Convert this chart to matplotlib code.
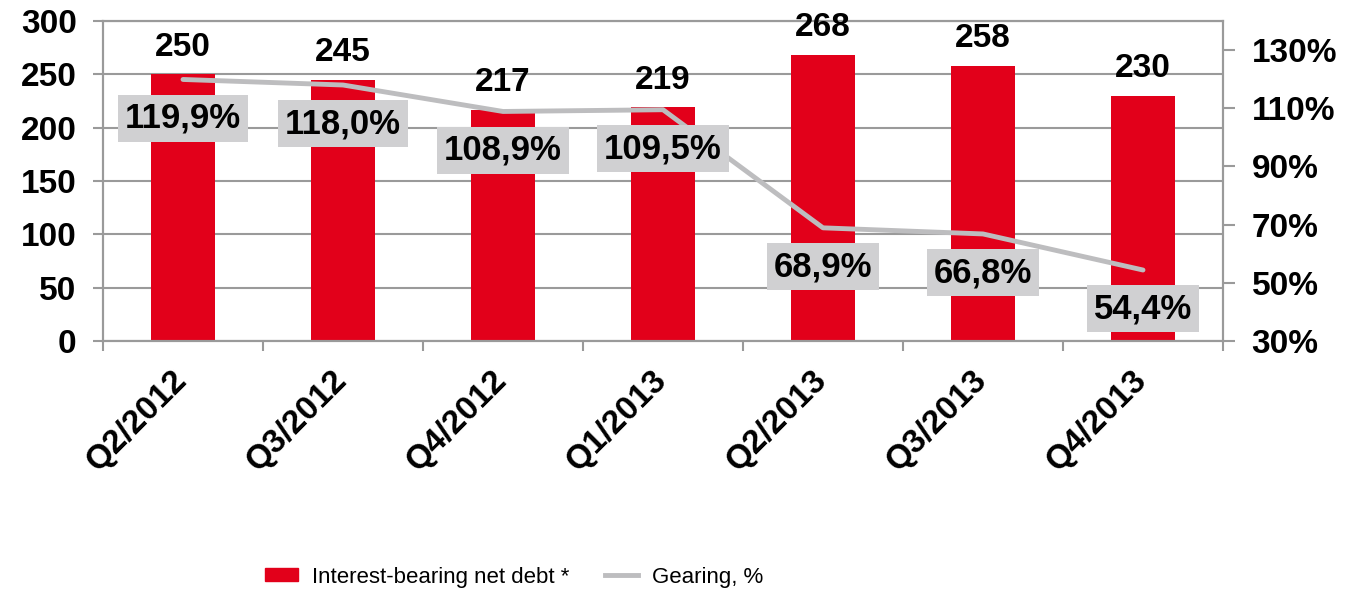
import numpy as np
import matplotlib; matplotlib.use("Agg")
import matplotlib.pyplot as plt
import matplotlib.transforms as mtrans
from matplotlib.patches import Patch
from matplotlib.lines import Line2D

# ---------------------------------------------------------- data
quarters = ["Q2/2012", "Q3/2012", "Q4/2012", "Q1/2013", "Q2/2013", "Q3/2013", "Q4/2013"]
net_debt = [250, 245, 217, 219, 268, 258, 230]
gearing = [119.9, 118.0, 108.9, 109.5, 68.9, 66.8, 54.4]
left_ticks = [0, 50, 100, 150, 200, 250, 300]
right_ticks = [30, 50, 70, 90, 110, 130]

RED, LINE, BOX, GRID = "#e2001a", "#bdbdbf", "#d0d0d2", "#9a9a9a"
plt.rcParams["font.family"] = ["Liberation Sans", "DejaVu Sans"]

fig = plt.figure(figsize=(13.49, 5.98), dpi=100)
ax = fig.add_axes([103/1349, 1-341/598, 1120/1349, 320/598])
x = np.arange(len(quarters))

# ---------------------------------------------------------- bars (left axis)
ax.bar(x, net_debt, width=0.4, color=RED, zorder=2)
ax.set_xlim(-0.5, len(quarters)-0.5); ax.set_ylim(0, 300)
ax.set_yticks(left_ticks)
ax.yaxis.grid(True, color=GRID, lw=1.5, zorder=0)
for s in ax.spines.values(): s.set_color(GRID); s.set_linewidth(1.5)
ax.tick_params(axis="y", length=7, width=1.5, color=GRID, labelsize=24, pad=12)
for t in ax.get_yticklabels(): t.set_fontweight("bold")
ax.set_xticks(x)
ax.set_xticklabels(quarters, rotation=45, ha="right", rotation_mode="anchor",
                   fontsize=24, fontweight="bold")
ax.tick_params(axis="x", which="major", length=0, pad=17)
shift = mtrans.ScaledTranslation(-12/100, 0, fig.dpi_scale_trans)
for t in ax.get_xticklabels(): t.set_transform(t.get_transform() + shift)
ax.set_xticks(np.arange(-0.5, len(quarters)), minor=True)
ax.tick_params(axis="x", which="minor", length=7, width=1.5, color=GRID)

# ---------------------------------------------------------- gearing line (right axis)
ax2 = ax.twinx()
ax2.plot(x, gearing, color=LINE, lw=3.5, solid_capstyle="round", zorder=3)
ax2.set_ylim(30, 140); ax2.set_yticks(right_ticks)
ax2.set_yticklabels([f"{t}%" for t in right_ticks], fontsize=24, fontweight="bold")
ax2.tick_params(axis="y", length=8.5, width=1.5, color=GRID, pad=12)
for s in ax2.spines.values(): s.set_color(GRID); s.set_linewidth(1.5)
# bar labels live on ax2 so they sit above the frame line
for xi, v in zip(x, net_debt):
    ax2.annotate(f"{v}", (xi, v), xycoords=ax.transData, xytext=(0, 13.5),
                 textcoords="offset points", ha="center", va="baseline",
                 fontsize=24, fontweight="bold", zorder=5, annotation_clip=False)
for xi, g in zip(x, gearing):
    ax2.annotate(f"{g:.1f}%".replace(".", ","), (xi, g), xytext=(0, -28),
                 textcoords="offset points", ha="center", va="center",
                 fontsize=25, fontweight="bold", zorder=4,
                 bbox=dict(boxstyle="square,pad=0.2", fc=BOX, ec="none"))

# ---------------------------------------------------------- legend
handles = [Patch(color=RED, label="Interest-bearing net debt *"),
           Line2D([], [], color=LINE, lw=3.5, label="Gearing, %")]
fig.legend(handles=handles, loc="center", bbox_to_anchor=(0.381, 0.035), ncol=2,
           frameon=False, prop=dict(size=16),
           handlelength=1.5, handleheight=0.5, handletextpad=0.63, columnspacing=1.6)

fig.savefig("out.png", dpi=100)
